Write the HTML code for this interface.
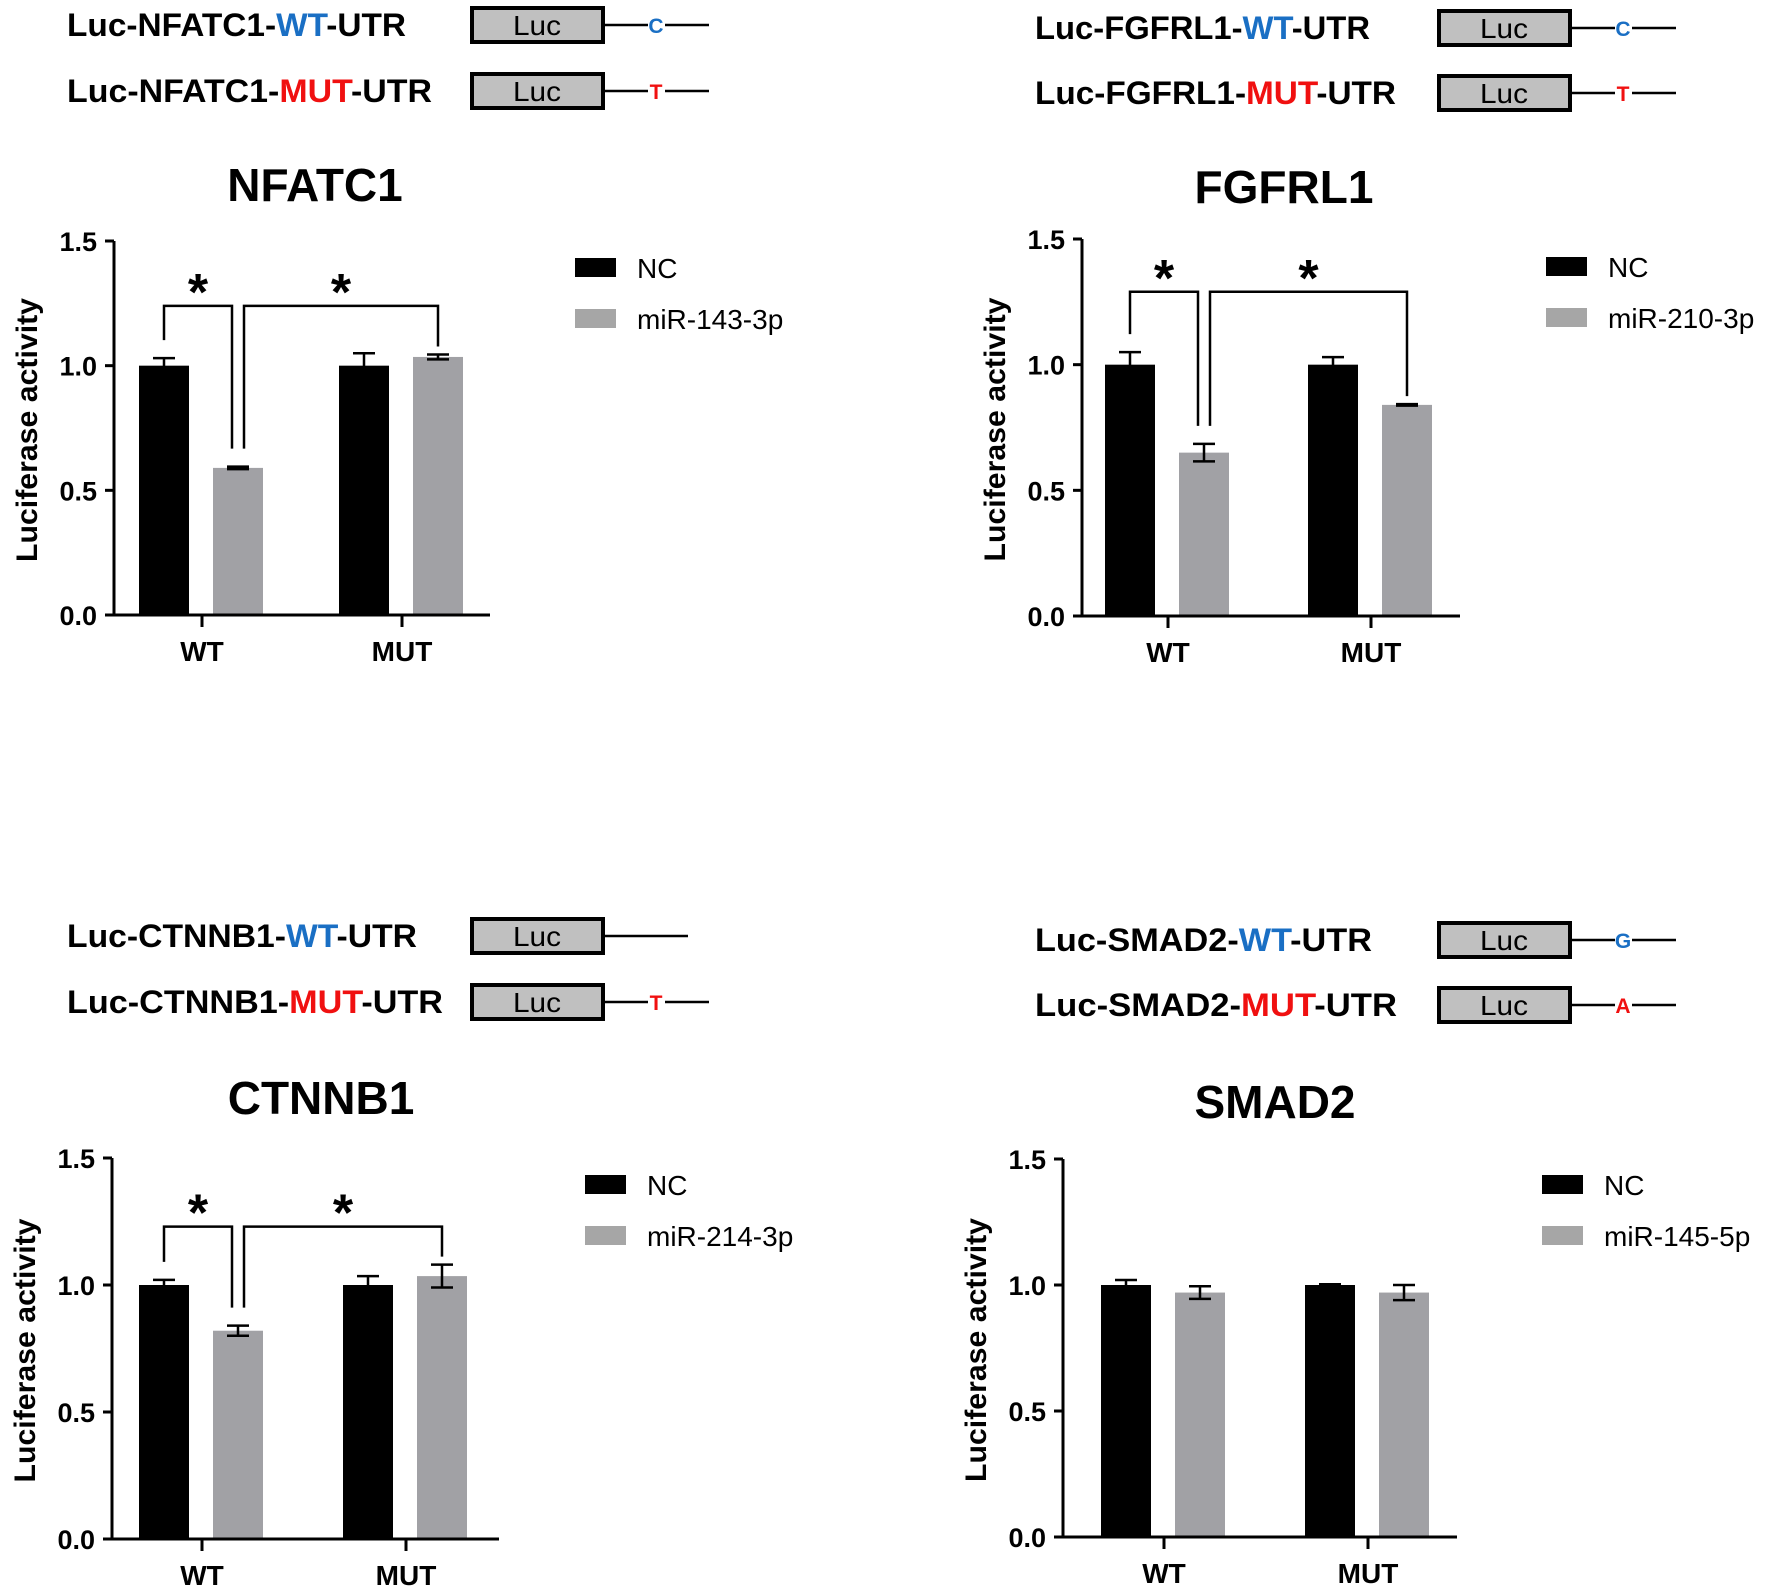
<!DOCTYPE html>
<html><head><meta charset="utf-8"><style>
html,body{margin:0;padding:0;background:#fff;}
svg{display:block;}
text{font-family:"Liberation Sans",sans-serif;}
</style></head><body>
<svg id="fig" width="1772" height="1591" viewBox="0 0 1772 1591" xmlns="http://www.w3.org/2000/svg"></svg>
<script>
// ---- data ----
const categories = ["WT", "MUT"];
const yTicks = [0.0, 0.5, 1.0, 1.5];
const yTickLabels = ["0.0", "0.5", "1.0", "1.5"];
const nfatc1Nc = [1.0, 1.0];
const nfatc1NcErr = [0.03, 0.05];
const nfatc1Mir = [0.59, 1.035];
const nfatc1MirErr = [0.005, 0.01];
const fgfrl1Nc = [1.0, 1.0];
const fgfrl1NcErr = [0.05, 0.03];
const fgfrl1Mir = [0.65, 0.84];
const fgfrl1MirErr = [0.035, 0.003];
const ctnnb1Nc = [1.0, 1.0];
const ctnnb1NcErr = [0.02, 0.035];
const ctnnb1Mir = [0.82, 1.035];
const ctnnb1MirErr = [0.02, 0.045];
const smad2Nc = [1.0, 1.0];
const smad2NcErr = [0.02, 0.003];
const smad2Mir = [0.97, 0.97];
const smad2MirErr = [0.025, 0.03];
const mirNames = ["miR-143-3p", "miR-210-3p", "miR-214-3p", "miR-145-5p"];
const geneNames = ["NFATC1", "FGFRL1", "CTNNB1", "SMAD2"];
const wtLetters = ["C", "C", "", "G"];
const mutLetters = ["T", "T", "T", "A"];
const significant = [true, true, true, false];

// ---- layout ----
const panels = [
 {name:"nfatc1", nc:nfatc1Nc, ncE:nfatc1NcErr, mir:nfatc1Mir, mirE:nfatc1MirErr,
  ax:114, y0:615, y15:241, xEnd:490, ticks:[202,402], title:[315,201], leg:[575,258], hx:67, hy:[6,72], hw:[339,365], box:470, brk:1.24},
 {name:"fgfrl1", nc:fgfrl1Nc, ncE:fgfrl1NcErr, mir:fgfrl1Mir, mirE:fgfrl1MirErr,
  ax:1082, y0:616, y15:239, xEnd:1460, ticks:[1168,1371], title:[1284,203], leg:[1546,257], hx:1035, hy:[9,74], hw:[335,361], box:1437, brk:1.29},
 {name:"ctnnb1", nc:ctnnb1Nc, ncE:ctnnb1NcErr, mir:ctnnb1Mir, mirE:ctnnb1MirErr,
  ax:112, y0:1539, y15:1158, xEnd:499, ticks:[202,406], title:[321,1114], leg:[585,1175], hx:67, hy:[917,983], hw:[350,376], box:470, brk:1.23},
 {name:"smad2", nc:smad2Nc, ncE:smad2NcErr, mir:smad2Mir, mirE:smad2MirErr,
  ax:1063, y0:1537, y15:1159, xEnd:1457, ticks:[1164,1368], title:[1275,1118], leg:[1542,1175], hx:1035, hy:[921,986], hw:[337,362], box:1437, brk:1.3}
];

const NS = "http://www.w3.org/2000/svg";
const svg = document.getElementById("fig");
function mk(tag, attrs, parent, txt){
  const e = document.createElementNS(NS, tag);
  for (const k in attrs) e.setAttribute(k, attrs[k]);
  if (txt !== undefined) e.textContent = txt;
  (parent || svg).appendChild(e);
  return e;
}

panels.forEach((p, i) => {
  const g = mk("g", {});
  
  
  const y = v => p.y0 - v * (p.y0 - p.y15) / 1.5;

  [0,1].forEach(r => {
    const top = p.hy[r];
    const cy = top + 19;
    const lab = mk("text", {x:p.hx, y:cy+11, "font-size":32, "font-weight":"bold",
      textLength: p.hw[r], lengthAdjust:"spacingAndGlyphs"}, g);
    
    
    mk("tspan", {}, lab, "Luc-" + geneNames[i] + "-");
    mk("tspan", {fill: r===0 ? "#1a6fc4" : "#f01010"}, lab, r===0 ? "WT" : "MUT");
    mk("tspan", {}, lab, "-UTR");
    const bx = mk("rect", {x:p.box+2, y:top+2, width:131, height:34, fill:"#c0c0c0", stroke:"#000", "stroke-width":4}, g);
    
    
    const lt = mk("text", {x:p.box+67, y:cy+10, "font-size":28, "text-anchor":"middle", textLength:48, lengthAdjust:"spacingAndGlyphs"}, g, "Luc");
    
    
    const letter = r===0 ? wtLetters[i] : mutLetters[i];
    const lx = p.box + 135;
    if (letter) {
      mk("line", {x1:lx, y1:cy, x2:lx+43, y2:cy, stroke:"#000", "stroke-width":2.5}, g);
      const t = mk("text", {x:lx+51, y:cy+8, "font-size":21, "font-weight":"bold", "text-anchor":"middle", fill: r===0 ? "#1a6fc4" : "#f01010"}, g, letter);
      
      
      mk("line", {x1:lx+60, y1:cy, x2:lx+104, y2:cy, stroke:"#000", "stroke-width":2.5}, g);
    } else {
      mk("line", {x1:lx, y1:cy, x2:lx+83, y2:cy, stroke:"#000", "stroke-width":2.5}, g);
    }
  });

  const tt = mk("text", {x:p.title[0], y:p.title[1], "font-size":46, "font-weight":"bold", "text-anchor":"middle"}, g, geneNames[i]);
  
  

  categories.forEach((c, j) => {
    const t = p.ticks[j];
    [[p.nc, p.ncE, -38, "#000"], [p.mir, p.mirE, 36, "#a1a1a5"]].forEach(([vals, errs, off, col], s) => {
      const cx = t + off;
      const b = mk("rect", {x:cx-25, y:y(vals[j]), width:50, height:p.y0 - y(vals[j]), fill:col}, g);
      
      
      const yt = y(vals[j] + errs[j]), yb = y(vals[j] - errs[j]);
      const eb = mk("path", {d:`M${cx-11},${yt}H${cx+11}M${cx},${yt}V${yb}M${cx-11},${yb}H${cx+11}`, stroke:"#000", "stroke-width":2.5, fill:"none"}, g);
      
      
    });
  });

  if (significant[i]) {
    const top = y(p.brk);
    const ncWT = p.ticks[0]-38, mirWT = p.ticks[0]+36, mirMUT = p.ticks[1]+36;
    const b1 = y(p.nc[0]+p.ncE[0]) - 18, b2 = y(p.mir[0]+p.mirE[0]) - 18, b3 = y(p.mir[1]+p.mirE[1]) - 8;
    const br1 = mk("path", {d:`M${ncWT},${b1}V${top}H${mirWT-6}V${b2}`, stroke:"#000", "stroke-width":2.5, fill:"none"}, g);
    
    
    const br2 = mk("path", {d:`M${mirWT+6},${b2}V${top}H${mirMUT}V${b3}`, stroke:"#000", "stroke-width":2.5, fill:"none"}, g);
    
    
    [(ncWT+mirWT-6)/2, (mirWT+6+mirMUT)/2].forEach(sx => {
      const st = mk("text", {x:sx, y:top+4, "font-size":52, "font-weight":"bold", "text-anchor":"middle"}, g, "*");
      
      
    });
  }

  const axes = mk("path", {d:`M${p.ax},${p.y15}V${p.y0}H${p.xEnd}`, stroke:"#000", "stroke-width":3, fill:"none"}, g);
  
  
  yTicks.forEach((v, k) => {
    mk("line", {x1:p.ax-9, y1:y(v), x2:p.ax, y2:y(v), stroke:"#000", "stroke-width":3}, g);
    const tl = mk("text", {x:p.ax-17, y:y(v)+10, "font-size":27, "font-weight":"bold", "text-anchor":"end"}, g, yTickLabels[k]);
    
    
  });
  categories.forEach((c, j) => {
    mk("line", {x1:p.ticks[j], y1:p.y0, x2:p.ticks[j], y2:p.y0+12, stroke:"#000", "stroke-width":3}, g);
    const xl = mk("text", {x:p.ticks[j], y:p.y0+46, "font-size":28, "font-weight":"bold", "text-anchor":"middle"}, g, c);
    
    
  });
  const yc = (p.y0 + p.y15) / 2 + 2;
  const yx = p.ax - 77;
  const yl = mk("text", {x:yx, y:yc, "font-size":30, "font-weight":"bold", "text-anchor":"middle", textLength:264, lengthAdjust:"spacingAndGlyphs", transform:`rotate(-90 ${yx} ${yc})`}, g, "Luciferase activity");
  
  

  [["NC","#000"],[mirNames[i],"#a6a6a6"]].forEach(([lbl,col], k) => {
    const ly = p.leg[1] + k*51;
    const sw = mk("rect", {x:p.leg[0], y:ly, width:41, height:19, fill:col}, g);
    
    
    const lt = mk("text", {x:p.leg[0]+62, y:ly+20, "font-size":28}, g, lbl);
    
    
  });
});
</script>
</body></html>
